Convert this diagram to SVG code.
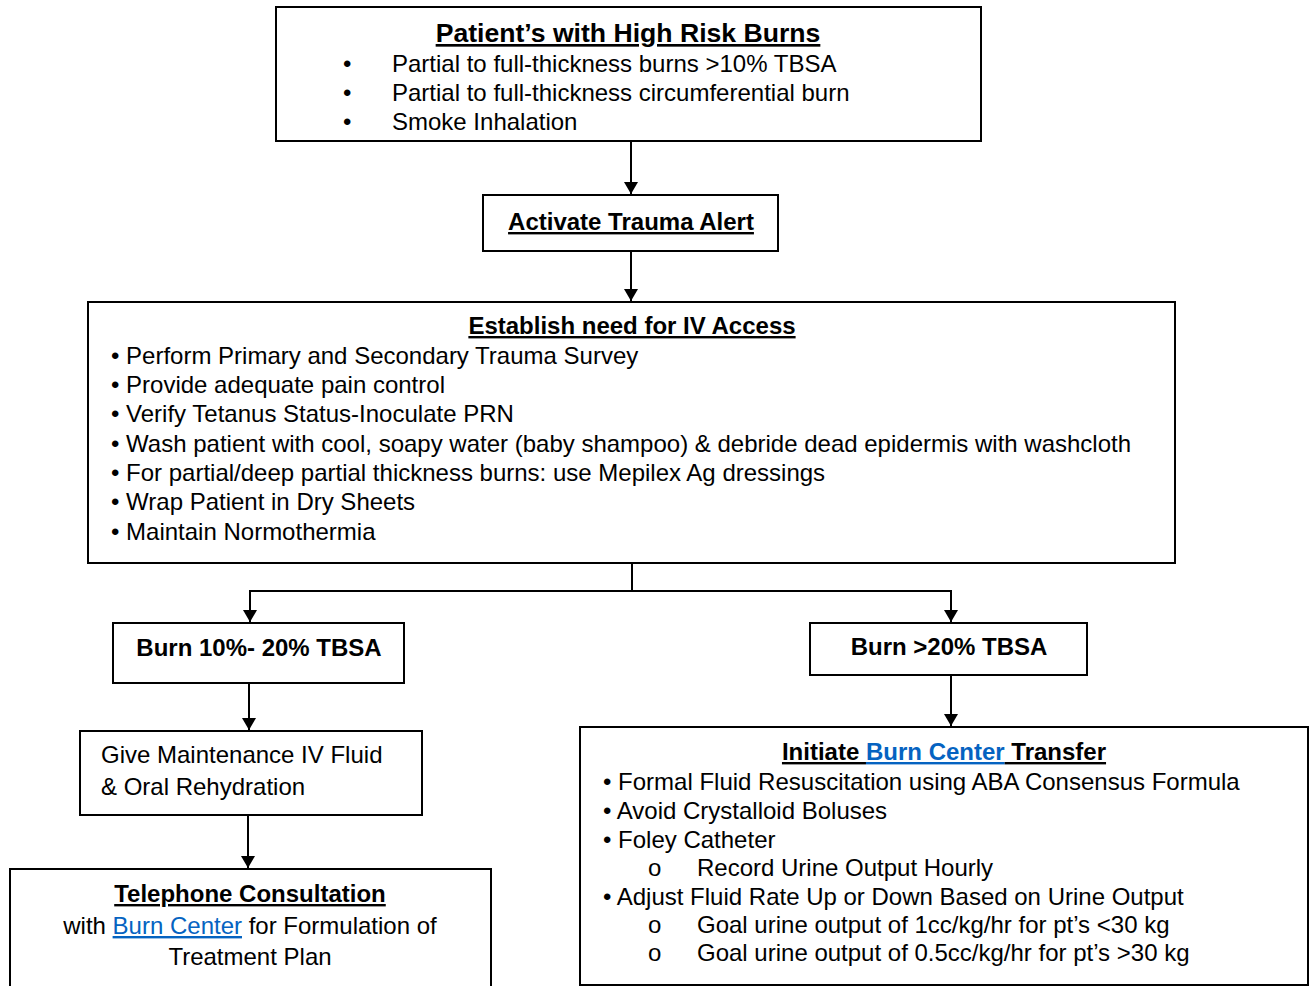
<svg xmlns="http://www.w3.org/2000/svg" width="1309" height="986" viewBox="0 0 1309 986">
<style>
.box{fill:#fff;stroke:#000;stroke-width:2}
.t{font-family:"Liberation Sans",Arial,sans-serif;font-size:24px;fill:#000}
.b{font-weight:bold}
.u{text-decoration:underline}
.c{text-anchor:middle}
.link{fill:#0563C1;text-decoration:underline}
.conn{fill:none;stroke:#000;stroke-width:2}
</style>
<defs>
<marker id="arr" viewBox="0 0 12 14" refX="12" refY="7" markerWidth="12" markerHeight="14" markerUnits="userSpaceOnUse" orient="auto">
<path d="M0,0 L12,7 L0,14 Z" fill="#000"/>
</marker>
</defs>
<g id="connectors">
<line class="conn" x1="631" y1="141" x2="631" y2="194" marker-end="url(#arr)"/>
<line class="conn" x1="631" y1="251" x2="631" y2="301" marker-end="url(#arr)"/>
<polyline class="conn" points="632,563 632,591 250,591 250,622" marker-end="url(#arr)"/>
<polyline class="conn" points="632,591 951,591 951,622" marker-end="url(#arr)"/>
<line class="conn" x1="249" y1="683" x2="249" y2="730" marker-end="url(#arr)"/>
<line class="conn" x1="248" y1="815" x2="248" y2="868" marker-end="url(#arr)"/>
<line class="conn" x1="951" y1="675" x2="951" y2="726" marker-end="url(#arr)"/>
</g>
<g id="n1">
<rect class="box" x="276" y="7" width="705" height="134"/>
<text class="t b u c" x="628" y="42" style="font-size:26.6px">Patient’s with High Risk Burns</text>
<text class="t" x="343" y="72">•</text><text class="t" x="392" y="72">Partial to full-thickness burns &gt;10% TBSA</text>
<text class="t" x="343" y="101">•</text><text class="t" x="392" y="101">Partial to full-thickness circumferential burn</text>
<text class="t" x="343" y="130">•</text><text class="t" x="392" y="130">Smoke Inhalation</text>
</g>
<g id="n2">
<rect class="box" x="483" y="195" width="295" height="56"/>
<text class="t b u c" x="631" y="230">Activate Trauma Alert</text>
</g>
<g id="n3">
<rect class="box" x="88" y="302" width="1087" height="261"/>
<text class="t b u c" x="632" y="334">Establish need for IV Access</text>
<text class="t" x="111" y="364">• Perform Primary and Secondary Trauma Survey</text>
<text class="t" x="111" y="393">• Provide adequate pain control</text>
<text class="t" x="111" y="422">• Verify Tetanus Status-Inoculate PRN</text>
<text class="t" x="111" y="452">• Wash patient with cool, soapy water (baby shampoo) &amp; debride dead epidermis with washcloth</text>
<text class="t" x="111" y="481">• For partial/deep partial thickness burns: use Mepilex Ag dressings</text>
<text class="t" x="111" y="510">• Wrap Patient in Dry Sheets</text>
<text class="t" x="111" y="540">• Maintain Normothermia</text>
</g>
<g id="n4">
<rect class="box" x="113" y="623" width="291" height="60"/>
<text class="t b c" x="259" y="656">Burn 10%- 20% TBSA</text>
</g>
<g id="n5">
<rect class="box" x="810" y="623" width="277" height="52"/>
<text class="t b c" x="949" y="655">Burn &gt;20% TBSA</text>
</g>
<g id="n6">
<rect class="box" x="80" y="731" width="342" height="84"/>
<text class="t" x="101" y="763">Give Maintenance IV Fluid</text>
<text class="t" x="101" y="795">&amp; Oral Rehydration</text>
</g>
<g id="n7">
<rect class="box" x="10" y="869" width="481" height="118"/>
<text class="t b u c" x="250" y="902">Telephone Consultation</text>
<text class="t c" x="250" y="934">with <tspan class="link">Burn Center</tspan> for Formulation of</text>
<text class="t c" x="250" y="965">Treatment Plan</text>
</g>
<g id="n8">
<rect class="box" x="580" y="727" width="728" height="258"/>
<text class="t b c" x="944" y="760"><tspan class="u">Initiate </tspan><tspan class="link">Burn Center</tspan><tspan class="u"> Transfer</tspan></text>
<text class="t" x="603" y="790">• Formal Fluid Resuscitation using ABA Consensus Formula</text>
<text class="t" x="603" y="819">• Avoid Crystalloid Boluses</text>
<text class="t" x="603" y="848">• Foley Catheter</text>
<text class="t" x="648" y="876">o</text><text class="t" x="697" y="876">Record Urine Output Hourly</text>
<text class="t" x="603" y="905">• Adjust Fluid Rate Up or Down Based on Urine Output</text>
<text class="t" x="648" y="933">o</text><text class="t" x="697" y="933">Goal urine output of 1cc/kg/hr for pt’s &lt;30 kg</text>
<text class="t" x="648" y="961">o</text><text class="t" x="697" y="961">Goal urine output of 0.5cc/kg/hr for pt’s &gt;30 kg</text>
</g>
</svg>
